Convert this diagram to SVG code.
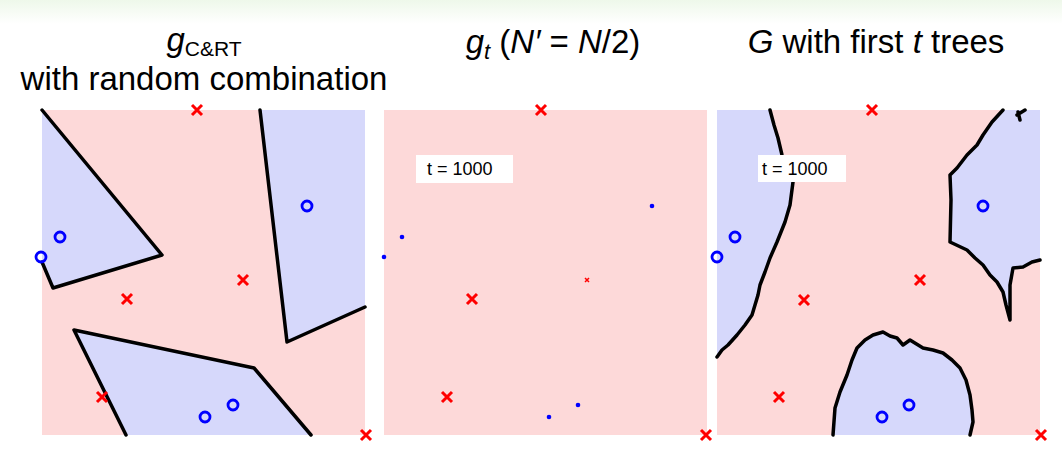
<svg xmlns="http://www.w3.org/2000/svg" width="1062" height="466" viewBox="0 0 1062 466">
<defs>
<style>
.t{font-family:"Liberation Sans",Arial,sans-serif;font-size:33px;fill:#000}
.i{font-style:italic}
.red{fill:#fdd9d9}
.blue{fill:#d6d8fb}
.b{fill:none;stroke:#000;stroke-width:3.5;stroke-linejoin:round;stroke-linecap:round}
.x{stroke:#f00;stroke-width:3;fill:none}
.o{stroke:#00f;stroke-width:2.8;fill:none}
.lab{font-family:"Liberation Sans",Arial,sans-serif;font-size:18px}
</style>
<g id="X"><path class="x" d="M-5,-5L5,5M-5,5L5,-5"/></g>
<g id="O"><circle class="o" r="5"/></g>
<linearGradient id="top" x1="0" y1="0" x2="0" y2="1"><stop offset="0" stop-color="#eef8ea"/><stop offset="1" stop-color="#fff"/></linearGradient>
</defs>
<rect width="1062" height="466" fill="#fff"/>
<rect width="1062" height="24" fill="url(#top)"/>
<g id="titles">
<text class="t" x="204" y="51" text-anchor="middle"><tspan class="i">g</tspan><tspan font-size="21" dy="5">C&amp;RT</tspan></text>
<text class="t" x="204" y="90" text-anchor="middle">with random combination</text>
<text class="t" x="553" y="53" text-anchor="middle"><tspan class="i">g</tspan><tspan class="i" font-size="22" dy="6">t</tspan><tspan dy="-6"> (</tspan><tspan class="i">N′</tspan> = <tspan class="i">N</tspan>/2)</text>
<text class="t" x="876" y="53" text-anchor="middle"><tspan class="i">G</tspan> with first <tspan class="i">t</tspan> trees</text>
</g>
<g id="panel1">
<rect class="red" x="42" y="110" width="323" height="325"/>
<polygon class="blue" points="42,110 162,255 53,288 42,262"/>
<polygon class="blue" points="260,110 287,342 365,307 365,110"/>
<polygon class="blue" points="74,330 254,368 311,435 126,435"/>
<polyline class="b" points="42,110 162,255 53,288 42,262"/>
<polyline class="b" points="260,110 287,342 365,307"/>
<polyline class="b" points="126,435 74,330 254,368 311,435"/>
<use href="#X" x="197" y="110"/><use href="#X" x="243" y="280"/><use href="#X" x="127" y="299"/><use href="#X" x="102" y="397"/><use href="#X" x="366" y="435"/>
<use href="#O" x="60" y="237"/><use href="#O" x="41" y="257"/><use href="#O" x="307" y="206"/><use href="#O" x="205" y="417"/><use href="#O" x="233" y="405"/>
</g>
<g id="panel2">
<rect class="red" x="384" y="110" width="323" height="325"/>
<rect x="416" y="155" width="97" height="28" fill="#fff"/>
<text class="lab" x="427" y="175">t = 1000</text>
<use href="#X" x="541" y="110"/><use href="#X" x="472" y="299"/><use href="#X" x="447" y="397"/><use href="#X" x="706" y="435"/>
<path d="M585,278l4,4M585,282l4,-4" stroke="#f00" stroke-width="1.5"/>
<g fill="#00f"><circle cx="402" cy="237" r="2.3"/><circle cx="384" cy="257" r="2.3"/><circle cx="652" cy="206" r="2.3"/><circle cx="549" cy="417" r="2.3"/><circle cx="578" cy="405" r="2.3"/></g>
</g>
<g id="panel3">
<rect class="red" x="717" y="110" width="323" height="325"/>
<polygon class="blue" points="717,110 770,110 778,138 782,155 793,182 790,205 777,242 765,272 758,295 752,315 737,335 717,357"/>
<polygon class="blue" points="1003,110 992,122 983,135 977,145 967,155 957,168 950,175 950,242 967,250 983,265 997,282 1003,292 1010,320 1010,285 1013,268 1023,267 1040,260 1040,110"/>
<polygon class="blue" points="833,435 835,408 847,375 857,348 873,335 883,332 897,338 903,345 910,340 923,348 943,353 960,368 970,395 973,422 970,435"/>
<polyline class="b" points="770,110 774,125 778,138 782,155 788,168 793,182 790,205 785,222 777,242 770,258 765,272 760,285 758,295 755,305 752,315 745,325 737,335 728,345 722,350 717,357"/>
<polyline class="b" points="1003,110 992,122 983,135 977,145 967,155 957,168 950,175 951,200 950,242 967,250 975,258 983,265 990,275 997,282 1003,292 1006,305 1010,320 1010,285 1013,268 1023,267 1032,262 1040,260"/>
<path class="b" d="M1017,115 L1025,110 M1020,120 L1018,112"/>
<polyline class="b" points="833,435 835,408 840,392 847,375 852,360 857,348 865,340 873,335 883,332 890,336 897,338 903,345 910,340 923,348 933,350 943,353 952,360 960,368 966,380 970,395 972,410 973,422 970,435"/>
<rect x="758" y="155" width="88" height="27" fill="#fff"/>
<text class="lab" x="762" y="175">t = 1000</text>
<use href="#X" x="872" y="110"/><use href="#X" x="920" y="280"/><use href="#X" x="804" y="300"/><use href="#X" x="779" y="397"/><use href="#X" x="1041" y="435"/>
<use href="#O" x="735" y="237"/><use href="#O" x="717" y="257"/><use href="#O" x="983" y="206"/><use href="#O" x="882" y="417"/><use href="#O" x="909" y="405"/>
</g>
</svg>
